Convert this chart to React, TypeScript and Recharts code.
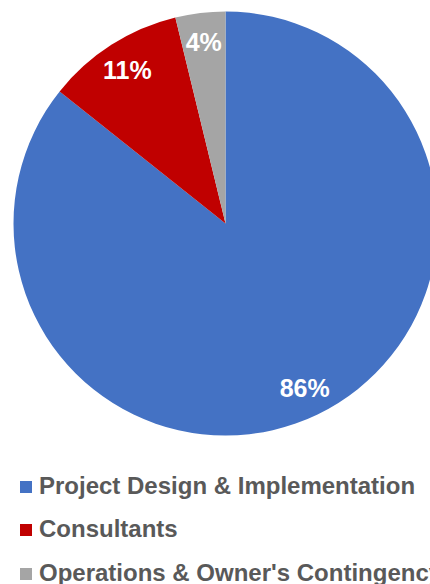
import React from "react";
import { PieChart, Pie, Cell, Legend } from "recharts";

const categories = ["Project Design & Implementation", "Consultants", "Operations & Owner's Contingency"];
const values = [85.7, 10.5, 3.8];
const valueLabels = ["86%", "11%", "4%"];
const colors = ["#4472C4", "#C00000", "#A5A5A5"];

const data = categories.map((name, i) => ({ name, value: values[i], label: valueLabels[i] }));

const FONT = '"Liberation Sans", Arial, sans-serif';
const RAD = Math.PI / 180;

const renderLabel = (props: any) => {
  const { cx, cy, midAngle, outerRadius, index } = props;
  const r = outerRadius * 0.86;
  const x = cx + r * Math.cos(-midAngle * RAD);
  const y = cy + r * Math.sin(-midAngle * RAD);
  return (
    <text
      x={x}
      y={y}
      fill="#FFFFFF"
      textAnchor="middle"
      dominantBaseline="central"
      fontFamily={FONT}
      fontWeight="bold"
      fontSize={25}
    >
      {valueLabels[index]}
    </text>
  );
};

const renderLegend = (props: any) => {
  const payload = [...(props.payload || [])].sort(
    (a: any, b: any) => categories.indexOf(a.value) - categories.indexOf(b.value)
  );
  return (
    <div style={{ width: 430, fontFamily: FONT }}>
      {payload.map((entry: any, i: number) => (
        <div key={i} style={{ position: "relative", height: 43.5, whiteSpace: "nowrap" }}>
          <div
            style={{
              position: "absolute",
              left: 20,
              top: 7,
              width: 12,
              height: 12,
              background: entry.color,
            }}
          />
          <div
            style={{
              position: "absolute",
              left: 39,
              top: 0,
              fontSize: 24,
              lineHeight: "24px",
              fontWeight: "bold",
              color: "#595959",
            }}
          >
            {entry.value}
          </div>
        </div>
      ))}
    </div>
  );
};

export default function App() {
  return (
    <div style={{ position: "absolute", left: 0, top: 0, width: 430, height: 584, overflow: "hidden", background: "#fff" }}>
      <PieChart width={430} height={584} margin={{ top: 0, right: 0, bottom: 0, left: 0 }}>
        <Pie
          data={data}
          dataKey="value"
          nameKey="name"
          cx={225.5}
          cy={223.5}
          outerRadius={212}
          startAngle={90}
          endAngle={-270}
          stroke="none"
          label={renderLabel}
          labelLine={false}
          isAnimationActive={false}
        >
          {data.map((d, i) => (
            <Cell key={d.name} fill={colors[i]} />
          ))}
        </Pie>
        <Legend
          content={renderLegend}
          wrapperStyle={{ position: "absolute", top: 473.7, left: 0, width: 430 }}
        />
      </PieChart>
    </div>
  );
}
